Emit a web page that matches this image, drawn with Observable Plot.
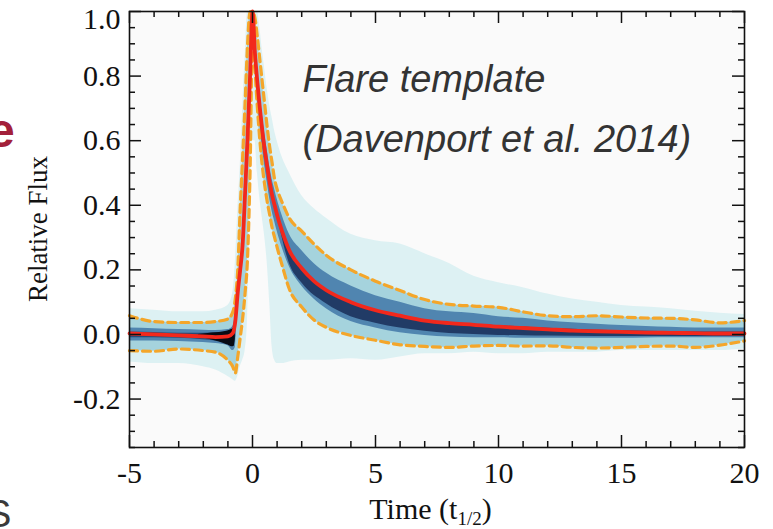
<!DOCTYPE html>
<html>
<head>
<meta charset="utf-8">
<script src="https://cdn.jsdelivr.net/npm/d3@7"></script>
<script src="https://cdn.jsdelivr.net/npm/@observablehq/plot@0.6"></script>
<style>
html, body { margin: 0; padding: 0; background: #fff; }
#chart { position: relative; width: 773px; height: 529px; overflow: hidden; }
</style>
</head>
<body>
<div id="chart"></div>
<script>
// ---- data (time in t_1/2, relative flux) ----
const timeGrid = [-5, -4, -3, -2, -1.5, -1, -0.8, -0.7, -0.6, -0.5, -0.4, -0.3, -0.2, -0.1,
  0, 0.1, 0.2, 0.3, 0.4, 0.5, 0.6, 0.7, 0.8, 0.9, 1,
  1.2, 1.5, 2, 2.5, 3,
  4, 5, 6, 7, 8, 9, 10, 11, 12, 13, 14, 15, 16, 17, 18, 19, 20];

const medianFlux = [0.003, 0.0, -0.003, -0.006, -0.008, -0.006, 0.004, 0.04, 0.13, 0.2, 0.28, 0.44, 0.61, 0.8,
  1.0, 0.87, 0.78, 0.7, 0.63, 0.57, 0.52, 0.47, 0.43, 0.4, 0.37,
  0.32, 0.26, 0.205, 0.165, 0.137,
  0.1, 0.075, 0.058, 0.043, 0.035, 0.03, 0.024, 0.02, 0.016, 0.012, 0.01, 0.008, 0.006, 0.005, 0.004, 0.003, 0.003];

const upperFlux = [0.058, 0.04, 0.037, 0.037, 0.04, 0.048, 0.07, 0.11, 0.2, 0.39, 0.55, 0.72, 0.9, 1.0,
  1.0, 0.98, 0.92, 0.85, 0.78, 0.71, 0.64, 0.58, 0.53, 0.48, 0.45,
  0.41, 0.36, 0.32, 0.28, 0.245,
  0.2, 0.165, 0.136, 0.108, 0.093, 0.088, 0.084, 0.07, 0.058, 0.055, 0.058, 0.054, 0.051, 0.05, 0.045, 0.036, 0.043];

const lowerFlux = [-0.05, -0.052, -0.045, -0.05, -0.055, -0.08, -0.1, -0.12, -0.07, -0.01, 0.05, 0.13, 0.24, 0.5,
  0.92, 0.82, 0.7, 0.6, 0.52, 0.46, 0.41, 0.37, 0.33, 0.3, 0.27,
  0.215, 0.14, 0.085, 0.045, 0.022,
  -0.003, -0.018, -0.032, -0.037, -0.04, -0.036, -0.034, -0.036, -0.035, -0.04, -0.042, -0.04, -0.037, -0.036, -0.04, -0.033, -0.02];

const envelopeLow = [-0.085, -0.09, -0.09, -0.1, -0.11, -0.13, -0.14, -0.145, -0.13, -0.1, -0.08, -0.05, 0.05, 0.35,
  0.6, 0.6, 0.5, 0.42, 0.36, 0.3, 0.22, 0.1, -0.04, -0.08, -0.09,
  -0.09, -0.085, -0.08, -0.08, -0.08,
  -0.075, -0.08, -0.07, -0.06, -0.06, -0.055, -0.06, -0.06, -0.055, -0.055, -0.055, -0.05, -0.05, -0.05, -0.05, -0.05, -0.045];

const envelopeHigh = [0.08, 0.075, 0.07, 0.07, 0.075, 0.09, 0.13, 0.22, 0.38, 0.52, 0.7, 0.86, 1.0, 1.0,
  1.0, 1.0, 1.0, 0.95, 0.88, 0.82, 0.76, 0.71, 0.67, 0.63, 0.6,
  0.55, 0.5, 0.43, 0.39, 0.36,
  0.31, 0.29, 0.28, 0.25, 0.22, 0.18, 0.16, 0.145, 0.125, 0.11, 0.1, 0.09, 0.085, 0.08, 0.072, 0.066, 0.062];

const denseLow = [-0.02, -0.02, -0.022, -0.025, -0.028, -0.035, -0.05, -0.04, 0.13, 0.2, 0.28, 0.44, 0.61, 0.8,
  1.0, 0.83, 0.73, 0.65, 0.58, 0.52, 0.47, 0.42, 0.38, 0.35, 0.32,
  0.27, 0.21, 0.15, 0.11, 0.08,
  0.04, 0.02, 0.005, -0.003, -0.008, -0.01, -0.01, -0.012, -0.012, -0.012, -0.012, -0.012, -0.011, -0.01, -0.01, -0.01, -0.01];

const denseHigh = [0.02, 0.018, 0.015, 0.013, 0.012, 0.015, 0.025, 0.06, 0.13, 0.2, 0.28, 0.44, 0.61, 0.8,
  1.0, 0.91, 0.82, 0.75, 0.68, 0.62, 0.57, 0.52, 0.48, 0.45, 0.42,
  0.37, 0.31, 0.26, 0.22, 0.19,
  0.15, 0.12, 0.1, 0.08, 0.07, 0.065, 0.055, 0.05, 0.042, 0.036, 0.032, 0.028, 0.025, 0.022, 0.02, 0.02, 0.02];

// darker core of the decay phase
const coreTime = [1, 1.5, 2, 3, 4, 5, 6, 7, 8, 9, 10, 11, 12, 14, 16, 18, 20];
const coreLow  = [0.37, 0.22, 0.16, 0.095, 0.055, 0.035, 0.02, 0.01, 0.003, 0.0, -0.003, -0.004, -0.005, -0.006, -0.006, -0.006, -0.006];
const coreHigh = [0.37, 0.26, 0.2, 0.14, 0.1, 0.075, 0.058, 0.045, 0.037, 0.032, 0.027, 0.023, 0.019, 0.013, 0.01, 0.008, 0.008];

// pre-flare core and the nearly black blob just before the rise
const preTime = [-5, -4, -3, -2, -1.5, -1.2, -1, -0.85, -0.75, -0.68];
const preLow  = [-0.01, -0.01, -0.012, -0.016, -0.02, -0.024, -0.027, -0.03, -0.03, -0.005];
const preHigh = [0.008, 0.006, 0.004, 0.004, 0.005, 0.007, 0.01, 0.014, 0.02, 0.03];

const blobTime = [-2.2, -1.8, -1.5, -1.2, -1.0, -0.85, -0.75, -0.7];
const blobLow  = [-0.008, -0.014, -0.02, -0.027, -0.033, -0.038, -0.037, -0.015];
const blobHigh = [0.0, 0.003, 0.005, 0.008, 0.011, 0.015, 0.02, 0.025];

// axes
const xMajorTicks = [-5, 0, 5, 10, 15, 20];
const xMinorTicks = [-4, -3, -2, -1, 1, 2, 3, 4, 6, 7, 8, 9, 11, 12, 13, 14, 16, 17, 18, 19];
const yMajorTicks = [-0.2, 0.0, 0.2, 0.4, 0.6, 0.8, 1.0];
const yMinorTicks = [-0.35, -0.3, -0.25, -0.15, -0.1, -0.05, 0.05, 0.1, 0.15, 0.25, 0.3, 0.35,
  0.45, 0.5, 0.55, 0.65, 0.7, 0.75, 0.85, 0.9, 0.95];
const xDomain = [-5, 20];
const yDomain = [-0.35, 1.0];

// texts
const annotationLines = ["Flare template", "(Davenport et al. 2014)"];
const yAxisLabel = "Relative Flux";
const xAxisLabelParts = ["Time (t", "1/2", ")"];
const slideFragments = ["e", "S"];

// ---- layout ----
const W = 773, H = 529;
const M = {top: 11, right: 29, bottom: 82, left: 129};
const innerW = W - M.left - M.right;
const innerH = H - M.top - M.bottom;

const rows = timeGrid.map((t, i) => ({
  t, median: medianFlux[i], upper: upperFlux[i], lower: lowerFlux[i],
  envLo: envelopeLow[i], envHi: envelopeHigh[i], denseLo: denseLow[i], denseHi: denseHigh[i]
}));
const coreRows = coreTime.map((t, i) => ({t, lo: coreLow[i], hi: coreHigh[i]}));
const preRows = preTime.map((t, i) => ({t, lo: preLow[i], hi: preHigh[i]}));
const blobRows = blobTime.map((t, i) => ({t, lo: blobLow[i], hi: blobHigh[i]}));

const curve = "monotone-x";
const tk = {stroke: "#111", strokeWidth: 1.5};
const topTick = yMajorTicks.filter(d => d === yDomain[1]);
const otherTicks = yMajorTicks.filter(d => d !== yDomain[1]);

const plot = Plot.plot({
  width: W, height: H,
  marginTop: M.top, marginRight: M.right, marginBottom: M.bottom, marginLeft: M.left,
  x: {domain: xDomain},
  y: {domain: yDomain},
  style: {fontFamily: "'Liberation Serif', 'Times New Roman', serif", fontSize: "30px", color: "#111", background: "#ffffff"},
  marks: [
    Plot.frame({fill: "#fafafa", stroke: null}),
    Plot.areaY(rows, {x: "t", y1: "envLo", y2: "envHi", fill: "#ddf1f3", curve}),
    Plot.areaY(rows, {x: "t", y1: "lower", y2: "upper", fill: "#a5d3dd", curve}),
    Plot.areaY(rows, {x: "t", y1: "denseLo", y2: "denseHi", fill: "#5085b0", curve}),
    Plot.areaY(preRows, {x: "t", y1: "lo", y2: "hi", fill: "#264a76", curve}),
    Plot.areaY(coreRows, {x: "t", y1: "lo", y2: "hi", fill: "#213b66", curve}),
    Plot.areaY(blobRows, {x: "t", y1: "lo", y2: "hi", fill: "#070b14", curve}),
    Plot.line(rows, {x: "t", y: "upper", stroke: "#f4a62a", strokeWidth: 3.2, strokeDasharray: "8,5", curve}),
    Plot.line(rows, {x: "t", y: "lower", stroke: "#f4a62a", strokeWidth: 3.2, strokeDasharray: "8,5", curve}),
    Plot.line(rows, {x: "t", y: "median", stroke: "#f2281c", strokeWidth: 3.8, curve}),
    // inward ticks on all four sides
    Plot.tickX(xMinorTicks, {x: d => d, insetTop: innerH - 6, ...tk}),
    Plot.tickX(xMinorTicks, {x: d => d, insetBottom: innerH - 6, ...tk}),
    Plot.tickX(xMajorTicks, {x: d => d, insetTop: innerH - 12, ...tk}),
    Plot.tickX(xMajorTicks, {x: d => d, insetBottom: innerH - 12, ...tk}),
    Plot.tickY(yMinorTicks, {y: d => d, insetRight: innerW - 6, ...tk}),
    Plot.tickY(yMinorTicks, {y: d => d, insetLeft: innerW - 6, ...tk}),
    Plot.tickY(yMajorTicks, {y: d => d, insetRight: innerW - 12, ...tk}),
    Plot.tickY(yMajorTicks, {y: d => d, insetLeft: innerW - 12, ...tk}),
    Plot.frame({stroke: "#111", strokeWidth: 1.6}),
    Plot.axisX({ticks: xMajorTicks, tickSize: 0, tickPadding: 14, tickFormat: d => String(d), label: null, fontSize: 30}),
    Plot.axisY({ticks: otherTicks, tickSize: 0, tickPadding: 9, tickFormat: d => d.toFixed(1), label: null, fontSize: 30}),
    Plot.axisY({ticks: topTick, tickSize: 0, tickPadding: 9, dy: 8, tickFormat: d => d.toFixed(1), label: null, fontSize: 30}),
    Plot.text([annotationLines.join("\n")], {
      text: d => d, frameAnchor: "top-left", dx: 173, dy: 38,
      textAnchor: "start", lineAnchor: "top", lineHeight: 1.58,
      fontFamily: "'Liberation Sans', Arial, sans-serif", fontStyle: "italic", fontSize: 38, fill: "#333"
    })
  ]
});

document.getElementById("chart").appendChild(plot);

const svg = d3.select(plot);
const xr = plot.scale("x").range, yr = plot.scale("y").range;

// ---- axis titles ----
const midY = (yr[0] + yr[1]) / 2;
const midX = (xr[0] + xr[1]) / 2;
svg.append("text")
  .attr("transform", `translate(47,${midY}) rotate(-90)`)
  .attr("text-anchor", "middle")
  .style("font-family", "'Liberation Serif', 'Times New Roman', serif")
  .style("font-size", "27px").attr("fill", "#111")
  .text(yAxisLabel);

const xt = svg.append("text")
  .attr("x", midX - 6).attr("y", 519)
  .attr("text-anchor", "middle")
  .style("font-family", "'Liberation Serif', 'Times New Roman', serif")
  .style("font-size", "30px").attr("fill", "#111");
xt.append("tspan").text(xAxisLabelParts[0]);
xt.append("tspan").style("font-size", "19px").attr("dy", 6).text(xAxisLabelParts[1]);
xt.append("tspan").attr("dy", -6).text(xAxisLabelParts[2]);

// ---- cropped letters from the surrounding slide ----
svg.append("text").attr("x", -12).attr("y", 147).attr("text-anchor", "start")
  .style("font-family", "'Liberation Sans', Arial, sans-serif").style("font-weight", "bold")
  .style("font-size", "48px").attr("fill", "#a3203a").text(slideFragments[0]);
svg.append("text").attr("x", -14).attr("y", 527).attr("text-anchor", "start")
  .style("font-family", "'Liberation Sans', Arial, sans-serif")
  .style("font-size", "38px").attr("fill", "#3a3a3a").text(slideFragments[1]);
</script>
</body>
</html>
